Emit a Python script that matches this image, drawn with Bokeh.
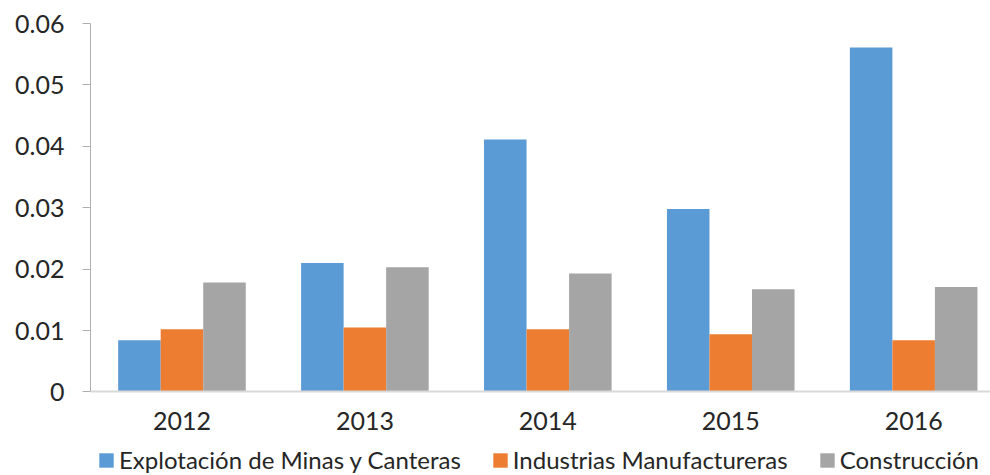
import numpy as np
from bokeh.plotting import figure
from bokeh.models import Range1d, FixedTicker, Legend, LegendItem
from bokeh.embed import file_html
from bokeh.resources import INLINE

years = ["2012", "2013", "2014", "2015", "2016"]
series_names = ["Explotación de Minas y Canteras", "Industrias Manufactureras", "Construcción"]
mineria = [0.0084, 0.0210, 0.0411, 0.0298, 0.0561]
manufactura = [0.0102, 0.0105, 0.0102, 0.0094, 0.0084]
construccion = [0.0178, 0.0203, 0.0193, 0.0167, 0.0171]
colors = ["#5B9BD5", "#ED7D31", "#A5A5A5"]
y_ticks = [0, 0.01, 0.02, 0.03, 0.04, 0.05, 0.06]
y_labels = ["0", "0.01", "0.02", "0.03", "0.04", "0.05", "0.06"]

FONT = "Lato"
TXT = "#262626"

# frame: 0..0.06 spans 368 px; extra room below zero holds the year labels and the legend
FRAME_H = 451
AXIS_PX = 368.4
Y_MAX = 0.06
Y_MIN = -Y_MAX * (FRAME_H - AXIS_PX) / AXIS_PX

p = figure(frame_width=900, frame_height=FRAME_H, output_backend="svg", toolbar_location=None,
           x_range=Range1d(0, 4.92), y_range=Range1d(Y_MIN, Y_MAX),
           min_border_left=90, min_border_right=0, min_border_top=23, min_border_bottom=0)
p.outline_line_color = None
p.xgrid.visible = False
p.ygrid.visible = False

centers = np.arange(len(years)) + 0.5
bw = 0.2325
data = [mineria, manufactura, construccion]
renderers = []
for i, (vals, col) in enumerate(zip(data, colors)):
    r = p.vbar(x=centers + (i - 1) * bw, top=vals, bottom=0, width=bw,
               fill_color=col, line_color=None)
    renderers.append(r)

xa = p.xaxis[0]
xa.fixed_location = 0
xa.ticker = FixedTicker(ticks=list(centers))
xa.major_label_overrides = {float(c): y for c, y in zip(centers, years)}
xa.major_tick_out = 0
xa.major_tick_in = 0
xa.minor_tick_out = 0
xa.minor_tick_in = 0
xa.axis_line_color = "#D9D9D9"
xa.axis_line_width = 2
xa.major_label_standoff = 20

ya = p.yaxis[0]
ya.bounds = (0, Y_MAX)
ya.ticker = FixedTicker(ticks=y_ticks)
ya.major_label_overrides = {float(t): l for t, l in zip(y_ticks, y_labels)}
ya.major_tick_out = 8
ya.major_tick_in = 0
ya.minor_tick_out = 0
ya.minor_tick_in = 0
ya.axis_line_color = "#B0B0B0"
ya.major_tick_line_color = "#B0B0B0"
ya.major_label_standoff = 18

for ax in (xa, ya):
    ax.major_label_text_font = FONT
    ax.major_label_text_font_size = "25px"
    ax.major_label_text_color = TXT

legend = Legend(items=[LegendItem(label=n, renderers=[r]) for n, r in zip(series_names, renderers)],
                orientation="horizontal", location=(7, 0))
legend.label_text_font = FONT
legend.label_text_font_size = "24px"
legend.label_text_color = TXT
legend.glyph_width = 18
legend.glyph_height = 18
legend.label_standoff = 4
legend.spacing = 30
legend.padding = 0
legend.margin = 0
legend.border_line_color = None
legend.background_fill_alpha = 0
p.add_layout(legend, "center")

open("out.html", "w").write(file_html(p, INLINE))
